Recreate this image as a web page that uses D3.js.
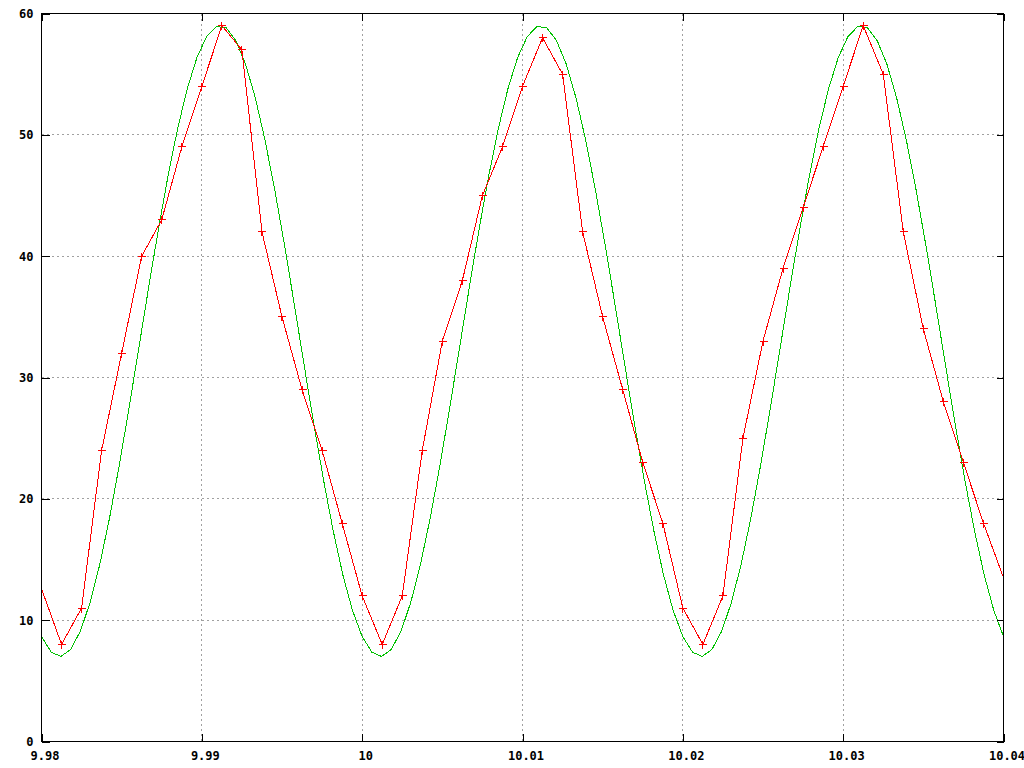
<!DOCTYPE html>
<html>
<head>
<meta charset="utf-8">
<script src="https://cdn.jsdelivr.net/npm/d3@7"></script>
<style>
  html, body { margin: 0; padding: 0; background: #fff; }
  svg { display: block; }
  .tick text { font-family: "DejaVu Sans Mono", "Liberation Mono", monospace; font-weight: bold; font-size: 12px; fill: #000; }
</style>
</head>
<body>
<script>
// ---- data ----
const xDomain = [9.98, 10.04];
const yDomain = [0, 60];
const xTickValues = [9.98, 9.99, 10.0, 10.01, 10.02, 10.03, 10.04];
const xTickLabels = ["9.98", "9.99", "10", "10.01", "10.02", "10.03", "10.04"];
const yTickValues = [0, 10, 20, 30, 40, 50, 60];
const yTickLabels = ["0", "10", "20", "30", "40", "50", "60"];

// red series: sample times and measured values (+ markers)
const redTimes = [9.98, 9.98125, 9.9825, 9.98375, 9.985, 9.98625, 9.9875, 9.98875, 9.99, 9.99125,
  9.9925, 9.99375, 9.995, 9.99625, 9.9975, 9.99875, 10.0, 10.00125, 10.0025, 10.00375,
  10.005, 10.00625, 10.0075, 10.00875, 10.01, 10.01125, 10.0125, 10.01375, 10.015, 10.01625,
  10.0175, 10.01875, 10.02, 10.02125, 10.0225, 10.02375, 10.025, 10.02625, 10.0275, 10.02875,
  10.03, 10.03125, 10.0325, 10.03375, 10.035, 10.03625, 10.0375, 10.03875, 10.04];
const redValues = [12.6, 8, 11, 24, 32, 40, 43, 49, 54, 59,
  57, 42, 35, 29, 24, 18, 12, 8, 12, 24,
  33, 38, 45, 49, 54, 58, 55, 42, 35, 29,
  23, 18, 11, 8, 12, 25, 33, 39, 44, 49,
  54, 59, 55, 42, 34, 28, 23, 18, 13.5];

// green series: 100 evenly spaced samples across the x range
const greenValues = [
  8.65, 7.36, 7.01, 7.59, 9.09, 11.46, 14.60, 18.41, 22.75, 27.45, 32.36, 37.29, 42.07, 46.52, 50.48, 53.80, 56.38,
  58.11, 58.93, 58.82, 57.77, 55.83, 53.06, 49.57, 45.48, 40.94, 36.11, 31.16, 26.29, 21.66, 17.43, 13.77, 10.81,
  8.65, 7.36, 7.01, 7.59, 9.09, 11.46, 14.60, 18.41, 22.75, 27.45, 32.36, 37.29, 42.07, 46.52, 50.48, 53.80, 56.38,
  58.11, 58.93, 58.82, 57.77, 55.83, 53.06, 49.57, 45.48, 40.94, 36.11, 31.16, 26.29, 21.66, 17.43, 13.77, 10.81,
  8.65, 7.36, 7.01, 7.59, 9.09, 11.46, 14.60, 18.41, 22.75, 27.45, 32.36, 37.29, 42.07, 46.52, 50.48, 53.80, 56.38,
  58.11, 58.93, 58.82, 57.77, 55.83, 53.06, 49.57, 45.48, 40.94, 36.11, 31.16, 26.29, 21.66, 17.43, 13.77, 10.81,
  8.65];

// ---- drawing ----
const W = 1024, H = 768;
const L = 41, R = 1003, T = 13, B = 741;

const svg = d3.select("body").append("svg").attr("width", W).attr("height", H);
svg.append("rect").attr("width", W).attr("height", H).attr("fill", "#fff");

const x = d3.scaleLinear().domain(xDomain).range([L, R]);
const y = d3.scaleLinear().domain(yDomain).range([B, T]);

const g = svg.append("g").attr("transform", "translate(0.5,0.5)");

// grid
const grid = g.append("g").attr("stroke", "#a0a0a0").attr("stroke-dasharray", "2,3").attr("shape-rendering", "crispEdges");
grid.selectAll("line.gx").data(xTickValues.slice(1, -1)).join("line")
  .attr("x1", d => Math.round(x(d))).attr("x2", d => Math.round(x(d)))
  .attr("y1", T).attr("y2", B);
grid.selectAll("line.gy").data(yTickValues.slice(1, -1)).join("line")
  .attr("y1", d => Math.round(y(d))).attr("y2", d => Math.round(y(d)))
  .attr("x1", L).attr("x2", R);

// clip for data
svg.append("defs").append("clipPath").attr("id", "plotclip")
  .append("rect").attr("x", L).attr("y", T).attr("width", R - L + 1).attr("height", B - T + 1);

const data = g.append("g").attr("clip-path", "url(#plotclip)");

const greenPts = greenValues.map((v, i) => [xDomain[0] + (xDomain[1] - xDomain[0]) * i / (greenValues.length - 1), v]);
const line = d3.line().x(d => x(d[0])).y(d => y(d[1]));

data.append("path").datum(greenPts)
  .attr("d", line).attr("fill", "none").attr("stroke", "#00c000").attr("stroke-width", 1)
  .attr("shape-rendering", "crispEdges");

const redPts = redTimes.map((t, i) => [t, redValues[i]]);
data.append("path").datum(redPts)
  .attr("d", line).attr("fill", "none").attr("stroke", "#ff0000").attr("stroke-width", 1)
  .attr("shape-rendering", "crispEdges");

const eps = 1e-9;
data.selectAll("path.mk").data(redPts.filter(d => d[0] > xDomain[0] + eps && d[0] < xDomain[1] - eps)).join("path")
  .attr("class", "mk")
  .attr("transform", d => `translate(${Math.round(x(d[0]))},${Math.round(y(d[1]))})`)
  .attr("d", "M-4,0H4M0,-4V4")
  .attr("stroke", "#ff0000").attr("fill", "none").attr("shape-rendering", "crispEdges");

// axes (ticks pointing inward, mirrored)
const axLeft = d3.axisLeft(y).tickValues(yTickValues).tickFormat((d, i) => yTickLabels[i])
  .tickSizeInner(-8).tickSizeOuter(0).tickPadding(8);
const axRight = d3.axisRight(y).tickValues(yTickValues).tickFormat(() => "")
  .tickSizeInner(-7).tickSizeOuter(0);
const axBottom = d3.axisBottom(x).tickValues(xTickValues).tickFormat((d, i) => xTickLabels[i])
  .tickSizeInner(-8).tickSizeOuter(0).tickPadding(10);
const axTop = d3.axisTop(x).tickValues(xTickValues).tickFormat(() => "")
  .tickSizeInner(-7).tickSizeOuter(0);

function styleAxis(sel) {
  sel.select(".domain").remove();
  sel.selectAll(".tick line").attr("stroke", "#000").attr("shape-rendering", "crispEdges");
}
g.append("g").attr("transform", `translate(${L},0)`).call(axLeft).call(styleAxis);
g.append("g").attr("transform", `translate(${R},0)`).call(axRight).call(styleAxis);
g.append("g").attr("transform", `translate(0,${B})`).call(axBottom).call(styleAxis)
  .selectAll(".tick text").attr("dx", 3);
g.append("g").attr("transform", `translate(0,${T})`).call(axTop).call(styleAxis);

// border
g.append("rect").attr("x", L).attr("y", T).attr("width", R - L).attr("height", B - T)
  .attr("fill", "none").attr("stroke", "#000").attr("shape-rendering", "crispEdges");
</script>
</body>
</html>
